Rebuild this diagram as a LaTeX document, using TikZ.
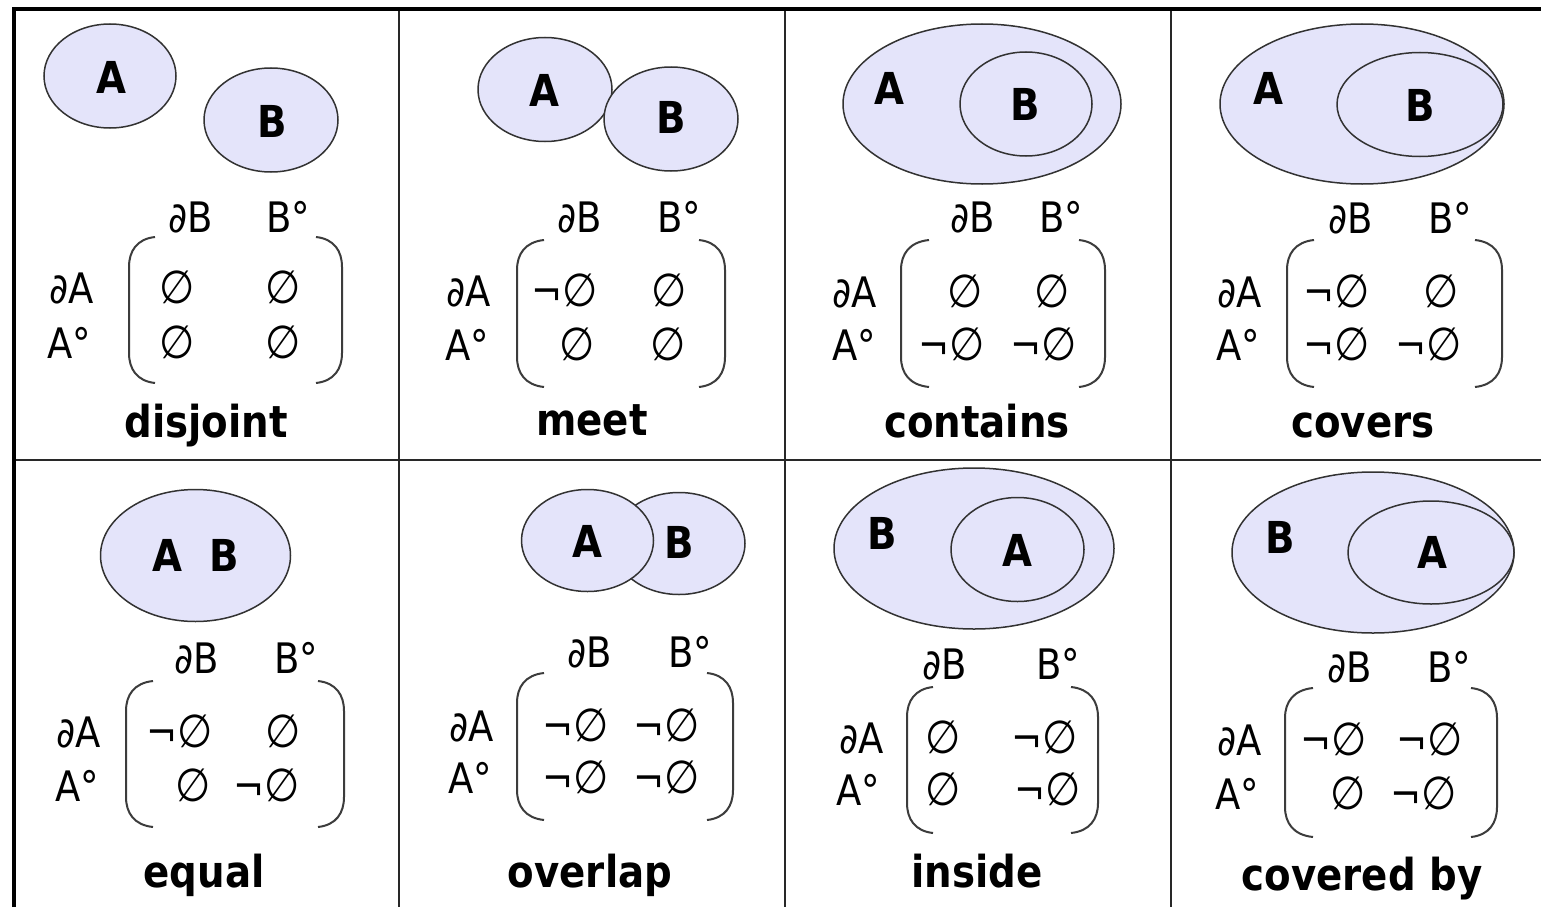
\documentclass[tikz,border=0pt]{standalone}
\usepackage{fontspec}
\setmainfont{DejaVu Sans}[FakeStretch=0.88]
\usetikzlibrary{shapes.geometric}
\definecolor{ellf}{RGB}{228,228,250}
\definecolor{ellc}{RGB}{50,50,50}
\definecolor{brkc}{RGB}{60,60,60}
\definecolor{gridc}{RGB}{40,40,40}
\newcommand\mybr[4]{%
  \draw[brk] (#2,#3) .. controls ({#1+0.3*(#2-#1)},{#3+2}) and (#1,{#3+14}) .. (#1,{#3+30})
    -- (#1,{#4-30}) .. controls (#1,{#4-14}) and ({#1+0.3*(#2-#1)},{#4-2}) .. (#2,#4);}
\newcommand\es{{\fontsize{46}{50}\selectfont ∅}}
\newcommand\nempty{¬\es}
\begin{document}
\begin{tikzpicture}[x=1pt,y=-1pt,
  region/.style={ellipse, draw=ellc, line width=1.5pt, fill=ellf, inner sep=0pt},
  lab/.style={font=\fontsize{44}{50}\selectfont\bfseries, anchor=base, inner sep=0pt},
  ttl/.style={font=\fontsize{44}{50}\selectfont\bfseries, anchor=base, inner sep=0pt},
  mtx/.style={font=\fontsize{42}{48}\selectfont, anchor=base, inner sep=0pt},
  brk/.style={draw=brkc, line width=2pt},
  outer/.style={draw=black, line width=3.5pt},
  inner/.style={draw=gridc, line width=2pt}]
\useasboundingbox[fill=white] (0,0) rectangle (1541,907);
% grid
\draw[inner] (399,9) -- (399,907);
\draw[inner] (785,9) -- (785,907);
\draw[inner] (1171,9) -- (1171,907);
\draw[inner] (14,460) -- (1541,460);
\draw[outer] (14,907) -- (14,9) -- (1541,9);

% ---- cell 1: disjoint
\node[region, minimum width=132pt, minimum height=104pt] (aA) at (110,76) {};
\node[region, minimum width=134pt, minimum height=104pt] (aB) at (271,120) {};
\node[lab] (aAl) at (111,93) {A};
\node[lab] (aBl) at (272,137) {B};
\node[mtx] (adB) at (191,232) {∂B};
\node[mtx] (aBo) at (288,232) {B°};
\node[mtx] (adA) at (72,303) {∂A};
\node[mtx] (aAo) at (69,358) {A°};
\node[mtx] (a11) at (177,303) {\es};
\node[mtx] (a12) at (283,303) {\es};
\node[mtx] (a21) at (177,358) {\es};
\node[mtx] (a22) at (283,358) {\es};
\mybr{129}{155}{237}{383}
\mybr{342}{316}{237}{383}
\node[ttl] (at) at (206,437) {disjoint};

% ---- cell 2: meet
\node[region, minimum width=134pt, minimum height=104pt] (bA) at (545,89.5) {};
\node[region, minimum width=134pt, minimum height=104pt] (bB) at (671,119) {};
\node[lab] (bAl) at (544,106) {A};
\node[lab] (bBl) at (671,133) {B};
\node[mtx] (bdB) at (580,232) {∂B};
\node[mtx] (bBo) at (679,232) {B°};
\node[mtx] (bdA) at (469,306) {∂A};
\node[mtx] (bAo) at (467,360) {A°};
\node[mtx] (b11) at (565,306) {\nempty};
\node[mtx] (b12) at (669,306) {\es};
\node[mtx] (b21) at (577,360) {\es};
\node[mtx] (b22) at (668,360) {\es};
\mybr{517}{544}{240}{387}
\mybr{725}{699}{240}{387}
\node[ttl] (bt) at (592,435) {meet};

% ---- cell 3: contains
\node[region, minimum width=278pt, minimum height=160pt] (cA) at (982,104) {};
\node[region, minimum width=132pt, minimum height=104pt] (cB) at (1026,104) {};
\node[lab] (cAl) at (889,104) {A};
\node[lab] (cBl) at (1025,120) {B};
\node[mtx] (cdB) at (973,232) {∂B};
\node[mtx] (cBo) at (1061,232) {B°};
\node[mtx] (cdA) at (855,307) {∂A};
\node[mtx] (cAo) at (854,360) {A°};
\node[mtx] (c11) at (965,307) {\es};
\node[mtx] (c12) at (1052,307) {\es};
\node[mtx] (c21) at (952,360) {\nempty};
\node[mtx] (c22) at (1044,360) {\nempty};
\mybr{901}{929}{240}{387}
\mybr{1105}{1079}{240}{387}
\node[ttl] (ct) at (977,437) {contains};

% ---- cell 4: covers
\node[region, minimum width=284pt, minimum height=160pt] (dA) at (1362,104) {};
\node[region, minimum width=166pt, minimum height=104pt] (dB) at (1420,104.5) {};
\node[lab] (dAl) at (1268,104) {A};
\node[lab] (dBl) at (1420,121) {B};
\node[mtx] (ddB) at (1351,233) {∂B};
\node[mtx] (dBo) at (1450,233) {B°};
\node[mtx] (ddA) at (1240,307) {∂A};
\node[mtx] (dAo) at (1238,360) {A°};
\node[mtx] (d11) at (1337,307) {\nempty};
\node[mtx] (d12) at (1441,307) {\es};
\node[mtx] (d21) at (1337,360) {\nempty};
\node[mtx] (d22) at (1429,360) {\nempty};
\mybr{1287}{1314}{240}{387}
\mybr{1502}{1475}{240}{387}
\node[ttl] (dt) at (1363,437) {covers};

% ---- cell 5: equal
\node[region, minimum width=190pt, minimum height=132pt] (eAB) at (195.5,555.5) {};
\node[lab] (eAl) at (167,571) {A};
\node[lab] (eBl) at (224,571) {B};
\node[mtx] (edB) at (197,673) {∂B};
\node[mtx] (eBo) at (296,673) {B°};
\node[mtx] (edA) at (79,747) {∂A};
\node[mtx] (eAo) at (77,801) {A°};
\node[mtx] (e11) at (180,747) {\nempty};
\node[mtx] (e12) at (283,747) {\es};
\node[mtx] (e21) at (193,801) {\es};
\node[mtx] (e22) at (267,801) {\nempty};
\mybr{126}{153}{681}{827}
\mybr{344}{318}{681}{827}
\node[ttl] (et) at (204,887) {equal};

% ---- cell 6: overlap
\node[region, minimum width=132pt, minimum height=102pt] (fB) at (679,543.5) {};
\node[region, minimum width=132pt, minimum height=102pt] (fA) at (587.5,540.5) {};
\node[lab] (fAl) at (587,557) {A};
\node[lab] (fBl) at (679,558) {B};
\node[mtx] (fdB) at (590,667) {∂B};
\node[mtx] (fBo) at (690,667) {B°};
\node[mtx] (fdA) at (472,741) {∂A};
\node[mtx] (fAo) at (470,793) {A°};
\node[mtx] (f11) at (576,741) {\nempty};
\node[mtx] (f12) at (667,741) {\nempty};
\node[mtx] (f21) at (576,793) {\nempty};
\node[mtx] (f22) at (667,793) {\nempty};
\mybr{517}{544}{673}{820}
\mybr{733}{707}{673}{820}
\node[ttl] (ft) at (590,887) {overlap};

% ---- cell 7: inside
\node[region, minimum width=280pt, minimum height=161pt] (gB) at (974,548.5) {};
\node[region, minimum width=133pt, minimum height=104pt] (gA) at (1017.5,549.5) {};
\node[lab] (gBl) at (882,549) {B};
\node[lab] (gAl) at (1017,566) {A};
\node[mtx] (gdB) at (945,679) {∂B};
\node[mtx] (gBo) at (1058,679) {B°};
\node[mtx] (gdA) at (862,753) {∂A};
\node[mtx] (gAo) at (858,805) {A°};
\node[mtx] (g11) at (943,753) {\es};
\node[mtx] (g12) at (1045,753) {\nempty};
\node[mtx] (g21) at (943,805) {\es};
\node[mtx] (g22) at (1048,805) {\nempty};
\mybr{907}{933}{687}{833}
\mybr{1098}{1071}{687}{833}
\node[ttl] (gt) at (977,887) {inside};

% ---- cell 8: covered by
\node[region, minimum width=282pt, minimum height=161pt] (hB) at (1373,552.5) {};
\node[region, minimum width=166pt, minimum height=103pt] (hA) at (1431,552.5) {};
\node[lab] (hBl) at (1280,553) {B};
\node[lab] (hAl) at (1432,568) {A};
\node[mtx] (hdB) at (1350,682) {∂B};
\node[mtx] (hBo) at (1449,682) {B°};
\node[mtx] (hdA) at (1240,755) {∂A};
\node[mtx] (hAo) at (1237,809) {A°};
\node[mtx] (h11) at (1334,755) {\nempty};
\node[mtx] (h12) at (1430,755) {\nempty};
\node[mtx] (h21) at (1348,809) {\es};
\node[mtx] (h22) at (1424,809) {\nempty};
\mybr{1285}{1313}{688}{837}
\mybr{1497}{1471}{688}{837}
\node[ttl] (ht) at (1362,890) {covered by};
\end{tikzpicture}
\end{document}
